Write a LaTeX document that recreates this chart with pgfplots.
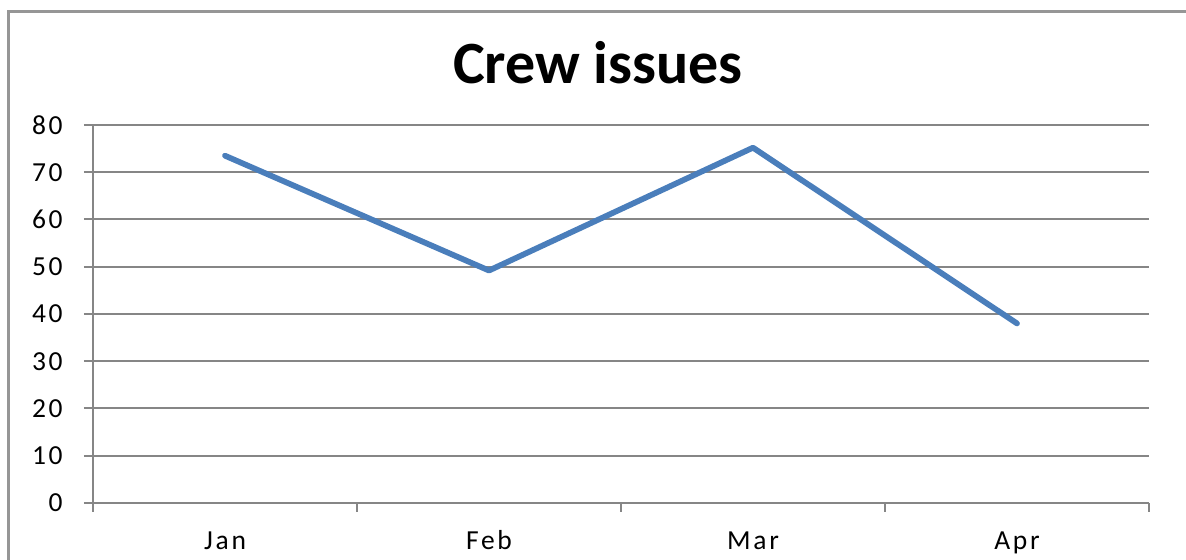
\documentclass[border=0pt]{standalone}
\usepackage{fontspec}
\setmainfont{Carlito}
\usepackage{pgfplots}
\pgfplotsset{compat=1.18}

\definecolor{excelblue}{RGB}{74,126,187}
\definecolor{gridgray}{RGB}{134,134,134}
\definecolor{framegray}{RGB}{150,150,150}

\begin{document}
\begin{tikzpicture}
% canvas: 1186x560 px at 0.4pt per px
\path[use as bounding box] (0,0) rectangle (474.4pt,224pt);
\draw[framegray, line width=1.2pt] (3.4pt,-2pt) -- (3.4pt,219.4pt) -- (476pt,219.4pt);
\node[font=\bfseries\fontsize{24}{26}\selectfont] at (239.2pt,199pt) {Crew issues};
\begin{axis}[
	at={(37.2pt,22.8pt)}, anchor=south west,
	scale only axis,
	width=422.4pt, height=151.2pt,
	xmin=-0.5, xmax=3.5,
	ymin=0, ymax=80,
	xtick={0,1,2,3},
	xticklabels={Jan,Feb,Mar,Apr},
	minor xtick={-0.5,0.5,1.5,2.5,3.5},
	ytick={0,10,...,80},
	ymajorgrids=true,
	grid style={gridgray, line width=0.8pt},
	axis x line*=bottom,
	axis y line*=left,
	axis line style={gridgray, line width=1.1pt, -},
	tick align=outside,
	major tick length=3.6pt,
	minor tick length=3.6pt,
	xtick style={draw=none},
	minor x tick style={draw=gridgray, line width=0.8pt},
	ytick style={gridgray, line width=0.8pt},
	tick label style={font=\fontsize{11}{13}\selectfont\addfontfeatures{LetterSpace=10}},
	/pgf/number format/assume math mode=true,
	xticklabel style={yshift=-3.8pt, text height=1.6ex, text depth=0.3ex},
	yticklabel style={xshift=-5pt},
	clip=false,
]
\addplot[excelblue, line width=2.3pt, line join=round, line cap=round] coordinates {
(0,73.5)
(1,49.2)
(2,75.2)
(3,38)
};
\end{axis}
\end{tikzpicture}
\end{document}
